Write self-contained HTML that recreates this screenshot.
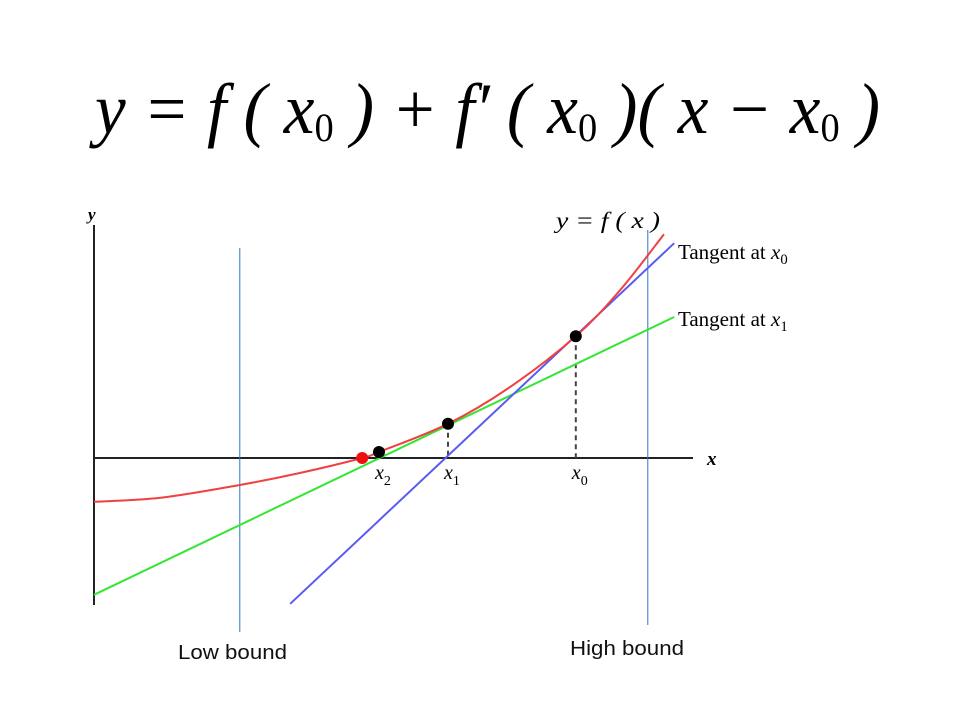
<!DOCTYPE html>
<html><head><meta charset="utf-8"><style>
html,body{margin:0;padding:0;background:#fff;}
svg{display:block;}
.serif{font-family:"Liberation Serif",serif;}
.sans{font-family:"Liberation Sans",sans-serif;}
</style></head><body>
<svg id="chart" width="960" height="720" viewBox="0 0 960 720" xmlns="http://www.w3.org/2000/svg">
<g>
<text class="serif" x="95" y="133" font-size="72" font-style="italic" textLength="785" lengthAdjust="spacingAndGlyphs">y = f ( x<tspan font-size="40" font-style="normal" dy="8">0</tspan><tspan dy="-8"> ) + f′ ( x</tspan><tspan font-size="40" font-style="normal" dy="8">0</tspan><tspan dy="-8"> )( x − x</tspan><tspan font-size="40" font-style="normal" dy="8">0</tspan><tspan dy="-8"> )</tspan></text>
</g>
<g id="plot"></g>
</svg>
<script>
const curveX = [0, 1.13, 2.43, 3.43, 4.47, 4.75, 5.9, 6.93, 8.03, 8.77, 9.5];
const curveY = [-0.73, -0.66, -0.45, -0.25, 0, 0.1, 0.57, 1.18, 2.03, 2.8, 3.73];
const tangent0X = [3.27, 9.67];
const tangent0Y = [-2.43, 3.58];
const tangent1X = [0, 9.67];
const tangent1Y = [-2.28, 2.35];
const iterNames = ["x0", "x1", "x2"];
const iterX = [8.03, 5.9, 4.75];
const iterY = [2.03, 0.57, 0.1];
const rootX = [4.47];
const rootY = [0];
const boundX = [2.43, 9.23];
const boundLabels = ["Low bound", "High bound"];

const sx = v => 94 + v * 60;
const sy = v => 458 - v * 60;
const NS = "http://www.w3.org/2000/svg";
const g = document.getElementById('plot');
function mk(tag, attrs, parent) {
  const e = document.createElementNS(NS, tag);
  for (const k in attrs) e.setAttribute(k, attrs[k]);
  (parent || g).appendChild(e);
  return e;
}
let e = mk('line', {x1: 94, y1: 225, x2: 94, y2: 605, stroke: '#222', 'stroke-width': 2});


e = mk('line', {x1: 94, y1: 458, x2: 693, y2: 458, stroke: '#222', 'stroke-width': 2});


e = mk('text', {x: 88, y: 220, class: 'serif', 'font-size': 17, 'font-style': 'italic', 'font-weight': 'bold'});
e.textContent = 'y';


e = mk('text', {x: 707, y: 465, class: 'serif', 'font-size': 19, 'font-style': 'italic', 'font-weight': 'bold'});
e.textContent = 'x';



const bTop = [248, 230], bBot = [632, 625], bLy = [659, 655], bLx = [178, 570], bLw = [109, 114];
boundX.forEach((b, i) => {
  let l = mk('line', {x1: sx(b), y1: bTop[i], x2: sx(b), y2: bBot[i], stroke: '#2e75c8', 'stroke-width': 1});
  
  
  let t = mk('text', {x: bLx[i], y: bLy[i], class: 'sans', 'font-size': 20, fill: '#111', textLength: bLw[i], lengthAdjust: 'spacingAndGlyphs'});
  t.textContent = boundLabels[i];
  
  
});

iterX.slice(0, 2).forEach((x, i) => {
  let d = mk('line', {x1: sx(x), y1: sy(iterY[i]), x2: sx(x), y2: 458, stroke: '#444', 'stroke-width': 2, 'stroke-dasharray': '5,4'});
  
  
});

e = mk('line', {x1: sx(tangent1X[0]), y1: sy(tangent1Y[0]), x2: sx(tangent1X[1]), y2: sy(tangent1Y[1]), stroke: '#33e633', 'stroke-width': 2});


e = mk('line', {x1: sx(tangent0X[0]), y1: sy(tangent0Y[0]), x2: sx(tangent0X[1]), y2: sy(tangent0Y[1]), stroke: '#5b5bf0', 'stroke-width': 2});



const P = curveX.map((x, i) => [sx(x), sy(curveY[i])]);
let dstr = 'M' + P[0][0] + ',' + P[0][1];
for (let i = 0; i < P.length - 1; i++) {
  const p0 = P[Math.max(0, i - 1)], p1 = P[i], p2 = P[i + 1], p3 = P[Math.min(P.length - 1, i + 2)];
  const c1 = [p1[0] + (p2[0] - p0[0]) / 6, p1[1] + (p2[1] - p0[1]) / 6];
  const c2 = [p2[0] - (p3[0] - p1[0]) / 6, p2[1] - (p3[1] - p1[1]) / 6];
  dstr += ' C' + c1 + ' ' + c2 + ' ' + p2;
}
e = mk('path', {d: dstr, fill: 'none', stroke: '#f04040', 'stroke-width': 2});



iterX.forEach((x, i) => {
  let c = mk('circle', {cx: sx(x), cy: sy(iterY[i]), r: 6, fill: '#000'});
  
  
  let t = mk('text', {x: sx(x) - 4, y: 479, class: 'serif', 'font-size': 20, 'font-style': 'italic'});
  
  
  t.textContent = 'x';
  let s = mk('tspan', {'font-size': 14, 'font-style': 'normal', dy: 6}, t);
  s.textContent = iterNames[i].slice(1);
});
e = mk('circle', {cx: sx(rootX[0]), cy: sy(rootY[0]), r: 6, fill: '#f01010'});



function lab(x, y, name, main, sub, size) {
  let t = mk('text', {x: x, y: y, class: 'serif', 'font-size': size});
  
  
  t.textContent = main;
  if (sub !== null) {
    let a = mk('tspan', {'font-style': 'italic'}, t); a.textContent = 'x';
    let s = mk('tspan', {'font-size': size * 0.7, dy: 5}, t); s.textContent = sub;
  }
}
lab(678, 259, 'tangent-x0-label', 'Tangent at ', '0', 21);
lab(678, 326, 'tangent-x1-label', 'Tangent at ', '1', 21);
e = mk('text', {x: 556, y: 228, class: 'serif', 'font-size': 23, 'font-style': 'italic', textLength: 104, lengthAdjust: 'spacingAndGlyphs'});
e.textContent = 'y = f ( x )';


</script>
</body></html>
